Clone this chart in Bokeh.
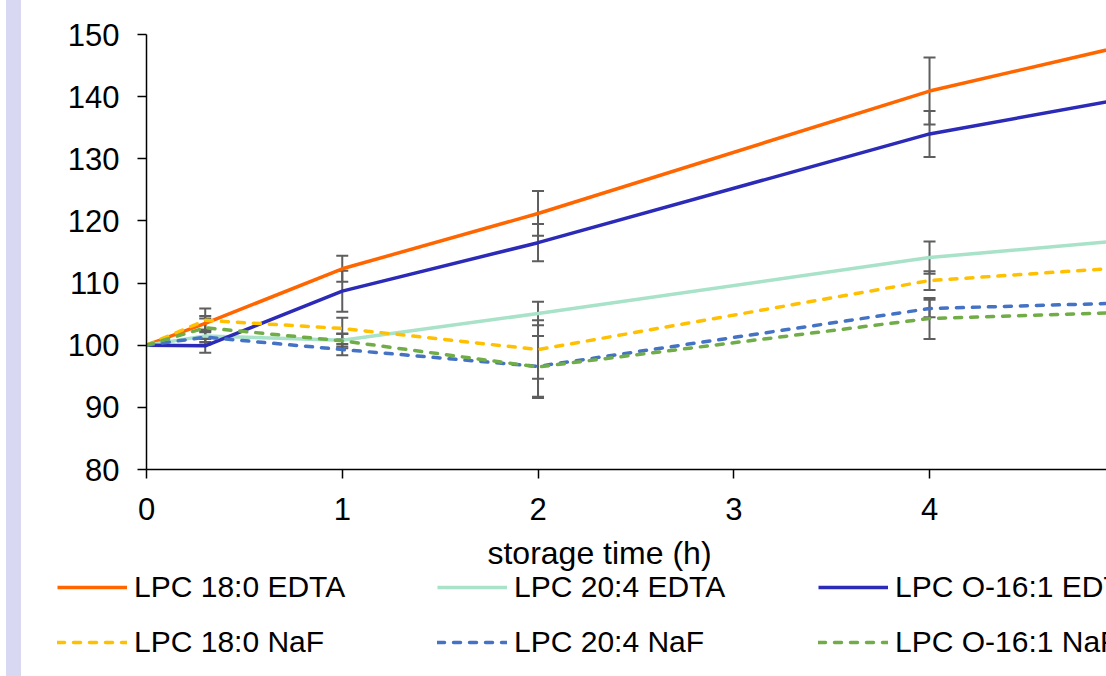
from bokeh.plotting import figure
from bokeh.models import (ColumnDataSource, Whisker, TeeHead, Legend, LegendItem,
                          FixedTicker, Label, Spacer, Range1d)
from bokeh.layouts import row, column
from bokeh.embed import file_html
from bokeh.resources import INLINE

# ---- data ----
times = [0, 0.3, 1, 2, 4, 5]
lpc180_edta = [100, 103.5, 112.3, 121.2, 140.9, 148.2]
lpc204_edta = [100, 101.5, 100.8, 105.1, 114.1, 116.9]
lpco161_edta = [100, 99.9, 108.7, 116.5, 134.0, 139.7]
lpc180_naf = [100, 104.0, 102.7, 99.3, 110.4, 112.5]
lpc204_naf = [100, 101.3, 99.3, 96.6, 105.9, 106.8]
lpco161_naf = [100, 102.8, 100.7, 96.5, 104.3, 105.3]

err_times = [0.3, 1, 2, 4]
lpc180_edta_err = [1.2, 2.1, 3.6, 5.4]
lpc204_edta_err = [1.0, 1.0, 1.9, 2.6]
lpco161_edta_err = [1.1, 3.3, 3.0, 3.7]
lpc180_naf_err = [1.9, 1.7, 4.7, 1.5]
lpc204_naf_err = [1.2, 0.9, 4.9, 1.4]
lpco161_naf_err = [1.5, 1.2, 5.0, 3.3]

x_ticks = [0, 1, 2, 3, 4, 5]
y_ticks = [80, 90, 100, 110, 120, 130, 140, 150]
x_title = "storage time (h)"

series = [
    ("LPC 18:0 EDTA", lpc180_edta, lpc180_edta_err, "#FF6600", None),
    ("LPC 20:4 EDTA", lpc204_edta, lpc204_edta_err, "#A8E2C8", None),
    ("LPC O-16:1 EDTA", lpco161_edta, lpco161_edta_err, "#2B2BB8", None),
    ("LPC 18:0 NaF", lpc180_naf, lpc180_naf_err, "#FFC000", "7 9"),
    ("LPC 20:4 NaF", lpc204_naf, lpc204_naf_err, "#4472C4", "7 9"),
    ("LPC O-16:1 NaF", lpco161_naf, lpco161_naf_err, "#70AD47", "7 9"),
]

FONT = "Liberation Sans"
FS = "31px"
FS_LEG = "30px"
FS_TITLE = "32px"
LW = 3.5
W = 1085
H1 = 535
H2 = 676 - H1


def style_line(fig, color, dash, **kw):
    if dash:
        return fig.line(line_color=color, line_width=LW, line_dash=dash,
                        line_cap="round", **kw)
    return fig.line(line_color=color, line_width=LW, **kw)


p = figure(width=W, height=H1, output_backend="svg", toolbar_location=None,
           x_range=Range1d(0, 4.904), y_range=Range1d(80, 150),
           min_border_left=125, min_border_right=0, min_border_top=34,
           min_border_bottom=H1 - 469)
p.frame_align = False
p.outline_line_color = None
p.xgrid.visible = False
p.ygrid.visible = False
p.border_fill_color = "white"

for ax in (p.xaxis[0], p.yaxis[0]):
    ax.axis_line_color = "black"
    ax.axis_line_width = 1.5
    ax.major_tick_line_color = "black"
    ax.major_tick_line_width = 1.5
    ax.major_tick_out = 9
    ax.major_tick_in = 0
    ax.minor_tick_line_color = None
    ax.major_label_text_font = FONT
    ax.major_label_text_font_size = FS
    ax.major_label_text_color = "black"

p.xaxis.ticker = FixedTicker(ticks=x_ticks)
p.yaxis.ticker = FixedTicker(ticks=y_ticks)
p.yaxis.major_label_standoff = 18
p.xaxis.major_label_standoff = 19

for name, vals, errs, color, dash in series:
    src = ColumnDataSource(dict(x=times, y=vals))
    style_line(p, color, dash, x="x", y="y", source=src)

for name, vals, errs, color, dash in series:
    base = [vals[times.index(t)] for t in err_times]
    esrc = ColumnDataSource(dict(x=err_times,
                                 upper=[b + e for b, e in zip(base, errs)],
                                 lower=[b - e for b, e in zip(base, errs)]))
    w = Whisker(base="x", upper="upper", lower="lower", source=esrc,
                dimension="height", line_color="#5E5E5E", line_width=2,
                upper_head=TeeHead(size=12, line_color="#5E5E5E", line_width=2),
                lower_head=TeeHead(size=12, line_color="#5E5E5E", line_width=2))
    p.add_layout(w)

# ---- lower panel: axis title and legend ----
q = figure(width=W, height=H2, output_backend="svg", toolbar_location=None,
           x_range=Range1d(0, W), y_range=Range1d(0, H2),
           min_border_left=0, min_border_right=0, min_border_top=0,
           min_border_bottom=0)
q.frame_align = False
q.xaxis.visible = False
q.yaxis.visible = False
q.xgrid.visible = False
q.ygrid.visible = False
q.outline_line_color = None
q.border_fill_color = "white"

q.add_layout(Label(x=578, y=124, text=x_title, text_font=FONT, text_font_size=FS_TITLE,
                   text_align="center", text_baseline="middle", text_color="black"))

col_x = [36, 416, 797]
row_y = [71, 16]
for i, (name, vals, errs, color, dash) in enumerate(series):
    # off-screen single point: only used for the legend swatch
    r = style_line(q, color, dash, x=[-500], y=[-500])
    lg = Legend(items=[LegendItem(label=name, renderers=[r])],
                location=(col_x[i % 3], row_y[i // 3]),
                glyph_width=70, glyph_height=36, label_height=36,
                label_standoff=7, padding=0, margin=0, spacing=0,
                border_line_color=None, background_fill_alpha=0,
                label_text_font=FONT, label_text_font_size=FS_LEG,
                label_text_color="black")
    q.add_layout(lg, "center")

layout = row(Spacer(width=6, height=676),
             Spacer(width=15, height=676, styles={"background-color": "#D8D8F2"}),
             column(p, q))

open("out.html", "w").write(file_html(layout, INLINE))
